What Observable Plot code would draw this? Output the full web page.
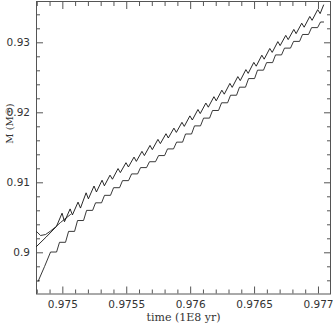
<!DOCTYPE html>
<html><head><meta charset="utf-8">
<script src="https://cdn.jsdelivr.net/npm/d3@7"></script>
<script src="https://cdn.jsdelivr.net/npm/@observablehq/plot@0.6"></script>
<style>body{margin:0;background:#fff;}</style>
</head><body><div id="chart"></div>
<script>
// upper sawtooth series (time in 1E8 yr, mass in Msun)
const sawT = [0.974794, 0.974870,
  0.974950, 0.974994, 0.975013, 0.975057, 0.975075, 0.975119, 0.975138, 0.975182,
  0.975200, 0.975244, 0.975263, 0.975307, 0.975325, 0.975369, 0.975388, 0.975432,
  0.975450, 0.975494, 0.975513, 0.975557, 0.975575, 0.975619, 0.975638, 0.975682,
  0.975700, 0.975744, 0.975763, 0.975807, 0.975825, 0.975869, 0.975888, 0.975932,
  0.975950, 0.975994, 0.976013, 0.976057, 0.976075, 0.976119, 0.976138, 0.976182,
  0.976200, 0.976244, 0.976263, 0.976307, 0.976325, 0.976369, 0.976388, 0.976432,
  0.976450, 0.976494, 0.976513, 0.976557, 0.976575, 0.976619, 0.976638, 0.976682,
  0.976700, 0.976744, 0.976763, 0.976807, 0.976825, 0.976869, 0.976888, 0.976932,
  0.976950, 0.976994, 0.977013, 0.977040];
const sawM = [0.90090, 0.90226,
  0.90376, 0.90566, 0.90444, 0.90627, 0.90541, 0.90724, 0.90639, 0.90857,
  0.90771, 0.90954, 0.90869, 0.91037, 0.90957, 0.91109, 0.91051, 0.91203,
  0.91146, 0.91287, 0.91226, 0.91367, 0.91306, 0.91449, 0.91389, 0.91534,
  0.91474, 0.91620, 0.91560, 0.91701, 0.91640, 0.91781, 0.91720, 0.91864,
  0.91806, 0.91956, 0.91897, 0.92047, 0.91989, 0.92139, 0.92080, 0.92230,
  0.92171, 0.92323, 0.92266, 0.92420, 0.92363, 0.92517, 0.92460, 0.92617,
  0.92563, 0.92720, 0.92666, 0.92823, 0.92766, 0.92919, 0.92863, 0.93017,
  0.92960, 0.93106, 0.93046, 0.93191, 0.93131, 0.93280, 0.93223, 0.93376,
  0.93321, 0.93474, 0.93417, 0.93540];

// upper smooth start curve
const upT = [0.974794, 0.974826, 0.974865, 0.974904, 0.974943, 0.974982, 0.975060];
const upM = [0.90304, 0.90247, 0.90261, 0.90311, 0.90369, 0.90433, 0.90547];

// lower staircase series
const stairT = [0.974806, 0.974857,
  0.974904, 0.974951, 0.974974, 0.975021, 0.975045, 0.975092, 0.975115, 0.975162,
  0.975186, 0.975233, 0.975256, 0.975303, 0.975326, 0.975373, 0.975397, 0.975444,
  0.975467, 0.975514, 0.975538, 0.975585, 0.975608, 0.975655, 0.975678, 0.975725,
  0.975749, 0.975796, 0.975819, 0.975866, 0.975890, 0.975937, 0.975960, 0.976007,
  0.976030, 0.976077, 0.976101, 0.976148, 0.976171, 0.976218, 0.976242, 0.976289,
  0.976312, 0.976359, 0.976382, 0.976429, 0.976453, 0.976500, 0.976523, 0.976570,
  0.976594, 0.976641, 0.976664, 0.976711, 0.976734, 0.976781, 0.976805, 0.976852,
  0.976875, 0.976922, 0.976946, 0.976993, 0.977016, 0.977040];
const stairM = [0.89590, 0.89804,
  0.90011, 0.90011, 0.90150, 0.90150, 0.90306, 0.90306, 0.90461, 0.90461,
  0.90606, 0.90606, 0.90714, 0.90714, 0.90821, 0.90821, 0.90930, 0.90930,
  0.91031, 0.91031, 0.91127, 0.91127, 0.91217, 0.91217, 0.91301, 0.91301,
  0.91389, 0.91389, 0.91484, 0.91484, 0.91581, 0.91581, 0.91697, 0.91697,
  0.91813, 0.91813, 0.91924, 0.91924, 0.92033, 0.92033, 0.92143, 0.92143,
  0.92251, 0.92251, 0.92366, 0.92366, 0.92489, 0.92489, 0.92609, 0.92609,
  0.92717, 0.92717, 0.92827, 0.92827, 0.92924, 0.92924, 0.93020, 0.93020,
  0.93119, 0.93119, 0.93217, 0.93217, 0.93297, 0.93297];

const xTicks = [0.975, 0.9755, 0.976, 0.9765, 0.977];
const xTickLabels = ["0.975", "0.9755", "0.976", "0.9765", "0.977"];
const xMinor = [0.9748, 0.9749, 0.9751, 0.9752, 0.9753, 0.9754, 0.9756, 0.9757, 0.9758, 0.9759,
  0.9761, 0.9762, 0.9763, 0.9764, 0.9766, 0.9767, 0.9768, 0.9769];
const yTicks = [0.90, 0.91, 0.92, 0.93];
const yTickLabels = ["0.9", "0.91", "0.92", "0.93"];
const yMinor = [0.896, 0.898, 0.902, 0.904, 0.906, 0.908, 0.912, 0.914, 0.916, 0.918,
  0.922, 0.924, 0.926, 0.928, 0.932, 0.934];
const xLabel = "time (1E8 yr)";
const yLabel = "M (M\u2609)";

const mk = (T, M) => T.map((t, i) => ({t, m: M[i]}));
const saw = mk(sawT, sawM), up = mk(upT, upM), stair = mk(stairT, stairM);

const axisCol = "#555";
const fmtX = d => xTickLabels[xTicks.indexOf(d)];
const fmtY = d => yTickLabels[yTicks.indexOf(d)];

const chart = Plot.plot({
  width: 333, height: 327,
  marginLeft: 36, marginRight: 3, marginTop: 1, marginBottom: 33.5,
  style: {fontFamily: "DejaVu Sans", fontSize: "10.5px", color: "#333", background: "#fff"},
  x: {domain: [0.974794, 0.977094], label: null},
  y: {domain: [0.894114, 0.935900], label: null},
  marks: [
    Plot.frame({stroke: axisCol}),
    Plot.axisX(xTicks, {anchor: "bottom", tickSize: -7, tickPadding: 14, tickFormat: fmtX, stroke: axisCol, label: null}),
    Plot.axisX(xMinor, {anchor: "bottom", tickSize: -4, tickFormat: () => "", stroke: axisCol, label: null}),
    Plot.axisX(xTicks, {anchor: "top", tickSize: -7, tickFormat: () => "", stroke: axisCol, label: null}),
    Plot.axisX(xMinor, {anchor: "top", tickSize: -4, tickFormat: () => "", stroke: axisCol, label: null}),
    Plot.axisY(yTicks, {anchor: "left", tickSize: -7, tickPadding: 13.5, tickFormat: fmtY, stroke: axisCol, label: null}),
    Plot.axisY(yMinor, {anchor: "left", tickSize: -4, tickFormat: () => "", stroke: axisCol, label: null}),
    Plot.axisY(yTicks, {anchor: "right", tickSize: -7, tickFormat: () => "", stroke: axisCol, label: null}),
    Plot.axisY(yMinor, {anchor: "right", tickSize: -4, tickFormat: () => "", stroke: axisCol, label: null}),
    Plot.line(stair, {x: "t", y: "m", stroke: "#222", strokeWidth: 0.9}),
    Plot.line(up, {x: "t", y: "m", stroke: "#222", strokeWidth: 0.9}),
    Plot.line(saw, {x: "t", y: "m", stroke: "#111", strokeWidth: 0.9}),
    Plot.text([xLabel], {frameAnchor: "bottom", dy: 27, fontFamily: "DejaVu Serif", fontSize: 11, fill: "#333"}),
    Plot.text([yLabel], {frameAnchor: "left", dx: -27, dy: -4, rotate: -90, fontFamily: "DejaVu Serif", fontSize: 10, fill: "#333"})
  ]
});
document.getElementById("chart").appendChild(chart);
</script>
</body></html>
